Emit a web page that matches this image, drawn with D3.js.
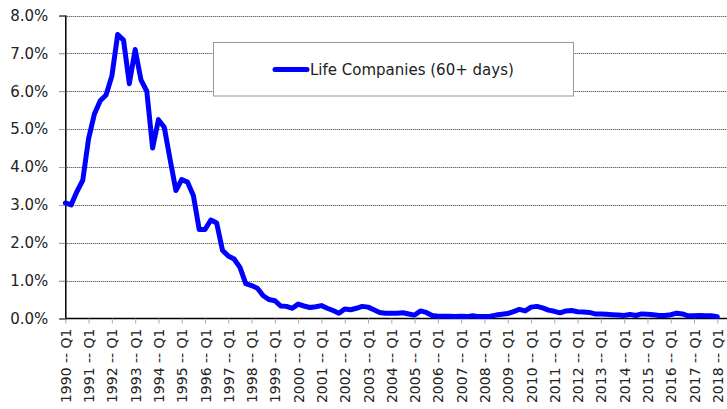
<!DOCTYPE html>
<html>
<head>
<meta charset="utf-8">
<script src="https://cdn.jsdelivr.net/npm/d3@7"></script>
<style>
  body { margin: 0; background: #fff; }
  svg { display: block; font-family: "DejaVu Sans", sans-serif; }
</style>
</head>
<body>
<div id="chart"></div>
<script>
// quarterly delinquency rate, 1990 Q1 .. 2018 Q1 (percent)
const years = d3.range(1990, 2019);
const quarters = ["Q1", "Q2", "Q3", "Q4"];
const categories = [];
years.forEach(y => quarters.forEach(q => { if (y < 2018 || q === "Q1") categories.push(y + " -- " + q); }));

const lifeValues = [
  3.05, 3.0, 3.35, 3.65,
  4.75, 5.4, 5.75, 5.9,
  6.4, 7.5, 7.35, 6.2,
  7.1, 6.3, 6.0, 4.5,
  5.25, 5.05, 4.2, 3.38,
  3.67, 3.6, 3.25, 2.35,
  2.35, 2.6, 2.52, 1.8,
  1.65, 1.57, 1.35, 0.92,
  0.87, 0.8, 0.6, 0.5,
  0.47, 0.33, 0.32, 0.27,
  0.38, 0.33, 0.29, 0.31,
  0.34, 0.27, 0.21, 0.14,
  0.25, 0.23, 0.27, 0.32,
  0.3, 0.23, 0.16, 0.14,
  0.14, 0.14, 0.15, 0.12,
  0.09, 0.2, 0.16, 0.08,
  0.06, 0.06, 0.06, 0.05,
  0.06, 0.05, 0.07, 0.05,
  0.05, 0.06, 0.09, 0.11,
  0.13, 0.18, 0.24, 0.2,
  0.3, 0.32, 0.28, 0.22,
  0.19, 0.15, 0.2, 0.21,
  0.18, 0.17, 0.16, 0.12,
  0.12, 0.11, 0.1, 0.09,
  0.08, 0.11, 0.08, 0.12,
  0.11, 0.1, 0.08, 0.08,
  0.1, 0.14, 0.12, 0.07,
  0.07, 0.08, 0.07, 0.07,
  0.05
];
const yTicks = [0, 1, 2, 3, 4, 5, 6, 7, 8];
const seriesName = "Life Companies (60+ days)";

const width = 727, height = 409;
const margin = { top: 15.5, right: 10, bottom: 90.5, left: 65.3 };

const svg = d3.select("#chart").append("svg")
    .attr("width", width)
    .attr("height", height);

const x = d3.scaleLinear()
    .domain([0, categories.length - 1])
    .range([margin.left, 717.3]);

const y = d3.scaleLinear()
    .domain([0, 8])
    .range([height - margin.bottom, margin.top]);

// gridlines
svg.append("g")
    .selectAll("line")
    .data(yTicks.filter(d => d > 0))
    .join("line")
    .attr("x1", margin.left - 6)
    .attr("x2", width)
    .attr("y1", d => Math.round(y(d)) + 0.5)
    .attr("y2", d => Math.round(y(d)) + 0.5)
    .attr("stroke", "#333")
    .attr("stroke-dasharray", "1,1");

// y axis
const yAxis = svg.append("g")
    .attr("transform", `translate(${margin.left},0)`)
    .call(d3.axisLeft(y).tickValues(yTicks).tickSize(6).tickPadding(11)
        .tickFormat(d => d.toFixed(1) + "%"));
yAxis.select(".domain").attr("stroke", "#000").attr("stroke-width", 1.5);
yAxis.selectAll(".tick line").attr("stroke", "#aaa");
yAxis.selectAll(".tick text").attr("font-size", 15).attr("fill", "#222")
    .attr("font-family", "DejaVu Sans, sans-serif");

// x axis
const q1Index = categories.map((c, i) => c.endsWith("Q1") ? i : -1).filter(i => i >= 0);
const xAxis = svg.append("g")
    .attr("transform", `translate(0,${y(0)})`)
    .call(d3.axisBottom(x).tickValues(q1Index).tickSize(5).tickSizeOuter(0)
        .tickFormat(i => categories[i]));
xAxis.select(".domain").attr("stroke", "#000").attr("stroke-width", 1.5)
    .attr("d", `M${margin.left},0H${width}`);
xAxis.selectAll(".tick line").attr("stroke", "#aaa");
xAxis.selectAll(".tick text")
    .attr("font-size", 14)
    .attr("fill", "#222")
    .attr("font-family", "DejaVu Sans, sans-serif")
    .attr("text-anchor", "end")
    .attr("dy", null)
    .attr("y", 0)
    .attr("transform", "translate(5,10) rotate(-90)");

// line
const line = d3.line()
    .x((d, i) => x(i))
    .y(d => y(d));

svg.append("path")
    .datum(lifeValues)
    .attr("fill", "none")
    .attr("stroke", "#0000ff")
    .attr("stroke-width", 5)
    .attr("stroke-linejoin", "round")
    .attr("stroke-linecap", "round")
    .attr("d", line);

// legend
const legend = svg.append("g");
legend.append("rect")
    .attr("x", 213.5).attr("y", 42.5)
    .attr("width", 360).attr("height", 53.5)
    .attr("fill", "#fff")
    .attr("stroke", "#999");
legend.append("line")
    .attr("x1", 275).attr("x2", 307)
    .attr("y1", 69.5).attr("y2", 69.5)
    .attr("stroke", "#0000ff")
    .attr("stroke-width", 5)
    .attr("stroke-linecap", "round");
legend.append("text")
    .attr("x", 310).attr("y", 75)
    .attr("font-size", 15)
    .attr("fill", "#222")
    .text(seriesName);
</script>
</body>
</html>
